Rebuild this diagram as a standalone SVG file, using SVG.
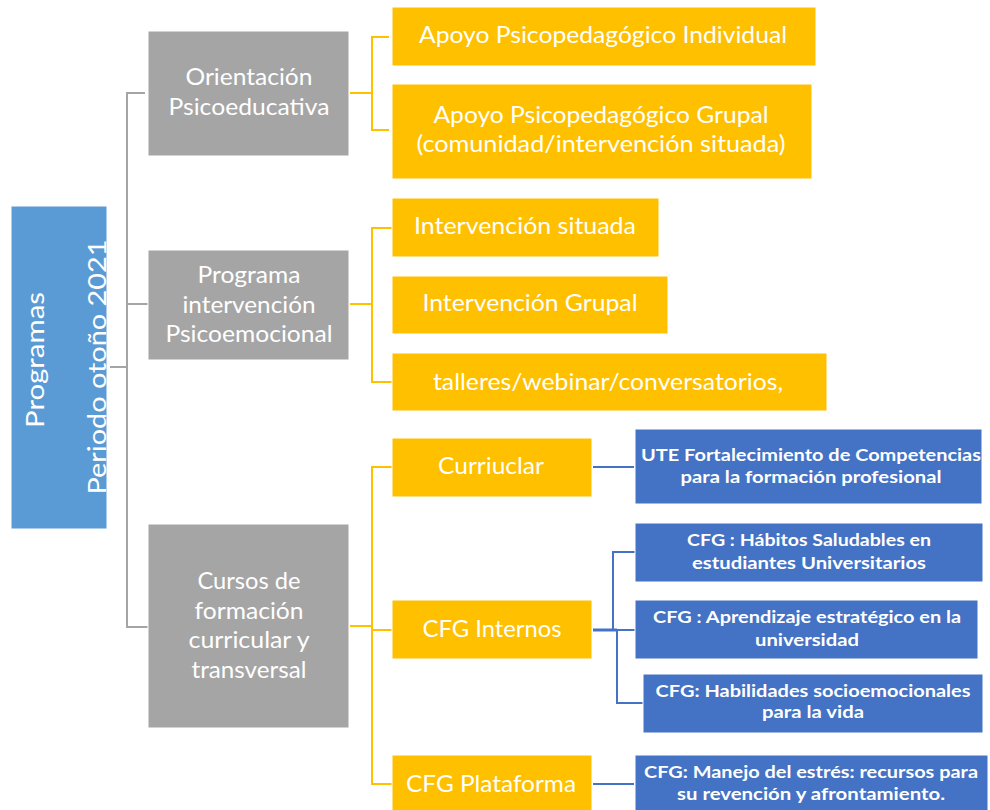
<svg xmlns="http://www.w3.org/2000/svg" width="990" height="810" viewBox="0 0 990 810">
<style>
.root{fill:#5B9BD5;stroke:#ffffff;stroke-width:1}
.gray{fill:#A5A5A5;stroke:#ffffff;stroke-width:1}
.org{fill:#FFC000;stroke:#ffffff;stroke-width:1}
.blu{fill:#4472C4;stroke:#ffffff;stroke-width:1}
text{fill:#ffffff;font-family:Lato,"Open Sans","Liberation Sans",sans-serif;text-anchor:middle}
.t{font-size:24px}
.b{font-size:17px;font-weight:bold}
.r{font-size:25px}
.cg{fill:none;stroke:#A5A5A5;stroke-width:2}
.co{fill:none;stroke:#FFC000;stroke-width:2}
.cb{fill:none;stroke:#4472C4;stroke-width:2}
</style>
<rect width="990" height="810" fill="#ffffff"/>
<g id="connectors">
<path class="cg" d="M110,367H127M145,93H127V627H148M127,304H148"/>
<path class="co" d="M350,93H372M389,37H372V130H389"/>
<path class="co" d="M350,304H372M392,228H372V382H392"/>
<path class="co" d="M350,626H372M392,467H372V784H392M372,630H392"/>
<path class="cb" d="M593,467H634"/>
<path class="cb" d="M635,552H613V630H635M617,630V703H643"/>
<path class="cb" d="M593,630H617" style="stroke-width:3"/>
<path class="cb" d="M593,784H634"/>
</g>
<g id="root">
<rect class="root" x="11" y="206" width="96" height="323"/>
<text class="r" x="44" y="360" transform="rotate(-90 44 360)" textLength="136" lengthAdjust="spacingAndGlyphs">Programas</text>
<text class="r" x="106" y="367" transform="rotate(-90 106 367)" textLength="255" lengthAdjust="spacingAndGlyphs">Periodo otoño 2021</text>
</g>
<g id="g1">
<rect class="gray" x="148" y="31" width="201" height="125"/>
<text class="t" x="249" y="85" textLength="127" lengthAdjust="spacingAndGlyphs">Orientación</text>
<text class="t" x="249" y="115" textLength="161" lengthAdjust="spacingAndGlyphs">Psicoeducativa</text>
</g>
<g id="g2">
<rect class="gray" x="148" y="250" width="201" height="110"/>
<text class="t" x="249" y="283" textLength="103" lengthAdjust="spacingAndGlyphs">Programa</text>
<text class="t" x="249" y="313" textLength="133" lengthAdjust="spacingAndGlyphs">intervención</text>
<text class="t" x="249" y="342" textLength="167" lengthAdjust="spacingAndGlyphs">Psicoemocional</text>
</g>
<g id="g3">
<rect class="gray" x="148" y="524" width="201" height="204"/>
<text class="t" x="249" y="589" textLength="103" lengthAdjust="spacingAndGlyphs">Cursos de</text>
<text class="t" x="249" y="619" textLength="109" lengthAdjust="spacingAndGlyphs">formación</text>
<text class="t" x="249" y="648" textLength="121" lengthAdjust="spacingAndGlyphs">curricular y</text>
<text class="t" x="249" y="678" textLength="115" lengthAdjust="spacingAndGlyphs">transversal</text>
</g>
<g id="o1">
<rect class="org" x="392" y="7" width="424" height="59"/>
<text class="t" x="603" y="43" textLength="368" lengthAdjust="spacingAndGlyphs">Apoyo Psicopedagógico Individual</text>
</g>
<g id="o2">
<rect class="org" x="392" y="84" width="420" height="95"/>
<text class="t" x="601" y="123" textLength="335" lengthAdjust="spacingAndGlyphs">Apoyo Psicopedagógico Grupal</text>
<text class="t" x="601" y="152" textLength="369" lengthAdjust="spacingAndGlyphs">(comunidad/intervención situada)</text>
</g>
<g id="o3">
<rect class="org" x="392" y="198" width="267" height="59"/>
<text class="t" x="525" y="234" textLength="222" lengthAdjust="spacingAndGlyphs">Intervención situada</text>
</g>
<g id="o4">
<rect class="org" x="392" y="276" width="276" height="58"/>
<text class="t" x="530" y="311" textLength="215" lengthAdjust="spacingAndGlyphs">Intervención Grupal</text>
</g>
<g id="o5">
<rect class="org" x="392" y="353" width="435" height="58"/>
<text class="t" x="608" y="390" textLength="350" lengthAdjust="spacingAndGlyphs">talleres/webinar/conversatorios,</text>
</g>
<g id="o6">
<rect class="org" x="392" y="438" width="200" height="59"/>
<text class="t" x="491" y="474" textLength="106" lengthAdjust="spacingAndGlyphs">Curriuclar</text>
</g>
<g id="o7">
<rect class="org" x="392" y="600" width="200" height="59"/>
<text class="t" x="492" y="637" textLength="139" lengthAdjust="spacingAndGlyphs">CFG Internos</text>
</g>
<g id="o8">
<rect class="org" x="392" y="755" width="200" height="60"/>
<text class="t" x="491" y="792" textLength="170" lengthAdjust="spacingAndGlyphs">CFG Plataforma</text>
</g>
<g id="b1">
<rect class="blu" x="635" y="429" width="347" height="75"/>
<text class="b" x="811" y="461" textLength="340" lengthAdjust="spacingAndGlyphs">UTE Fortalecimiento de Competencias</text>
<text class="b" x="811" y="483" textLength="261" lengthAdjust="spacingAndGlyphs">para la formación profesional</text>
</g>
<g id="b2">
<rect class="blu" x="635" y="523" width="348" height="59"/>
<text class="b" x="809" y="546" textLength="244" lengthAdjust="spacingAndGlyphs">CFG : Hábitos Saludables en</text>
<text class="b" x="809" y="569" textLength="234" lengthAdjust="spacingAndGlyphs">estudiantes Universitarios</text>
</g>
<g id="b3">
<rect class="blu" x="635" y="600" width="343" height="59"/>
<text class="b" x="807" y="623" textLength="308" lengthAdjust="spacingAndGlyphs">CFG : Aprendizaje estratégico en la</text>
<text class="b" x="807" y="646" textLength="104" lengthAdjust="spacingAndGlyphs">universidad</text>
</g>
<g id="b4">
<rect class="blu" x="643" y="674" width="340" height="59"/>
<text class="b" x="813" y="697" textLength="315" lengthAdjust="spacingAndGlyphs">CFG: Habilidades socioemocionales</text>
<text class="b" x="813" y="718" textLength="102" lengthAdjust="spacingAndGlyphs">para la vida</text>
</g>
<g id="b5">
<rect class="blu" x="635" y="755" width="353" height="60"/>
<text class="b" x="811" y="778" textLength="334" lengthAdjust="spacingAndGlyphs">CFG: Manejo del estrés: recursos para</text>
<text class="b" x="811" y="800" textLength="268" lengthAdjust="spacingAndGlyphs">su revención y afrontamiento.</text>
</g>
</svg>
